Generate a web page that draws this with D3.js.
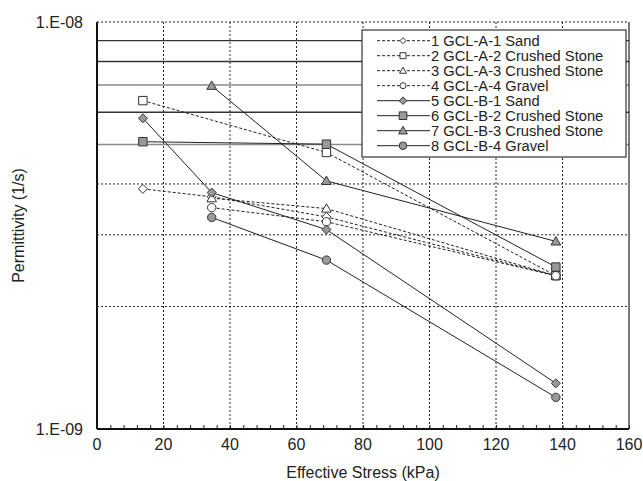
<!DOCTYPE html>
<html>
<head>
<meta charset="utf-8">
<script src="https://cdn.jsdelivr.net/npm/d3@7"></script>
<style>
  body { margin: 0; background: #fff; }
  svg { display: block; font-family: Arial, "Liberation Sans", sans-serif; }
</style>
</head>
<body>
<div id="chart"></div>
<script>
// effective stress steps (kPa)
const stress = [13.8, 34.5, 69, 138];

// permittivity (1/s), null = not tested
const a1Sand    = [3.89e-9, 3.72e-9, 3.32e-9, 2.38e-9];
const a2Crushed = [6.41e-9, null,    4.78e-9, 2.38e-9];
const a3Crushed = [null,    3.69e-9, 3.48e-9, 2.38e-9];
const a4Gravel  = [null,    3.50e-9, 3.23e-9, 2.38e-9];
const b1Sand    = [5.80e-9, 3.81e-9, 3.09e-9, 1.295e-9];
const b2Crushed = [5.08e-9, null,    5.01e-9, 2.50e-9];
const b3Crushed = [null,    6.97e-9, 4.07e-9, 2.89e-9];
const b4Gravel  = [null,    3.31e-9, 2.60e-9, 1.196e-9];

const seriesNames = [
  "1 GCL-A-1 Sand", "2 GCL-A-2 Crushed Stone", "3 GCL-A-3 Crushed Stone", "4 GCL-A-4 Gravel",
  "5 GCL-B-1 Sand", "6 GCL-B-2 Crushed Stone", "7 GCL-B-3 Crushed Stone", "8 GCL-B-4 Gravel"
];
const seriesValues = [a1Sand, a2Crushed, a3Crushed, a4Gravel, b1Sand, b2Crushed, b3Crushed, b4Gravel];
const seriesShapes = ["diamond", "square", "triangle", "circle", "diamond", "square", "triangle", "circle"];

const xTicks = [0, 20, 40, 60, 80, 100, 120, 140, 160];
const yTickLabels = [{v: 1e-8, t: "1.E-08"}, {v: 1e-9, t: "1.E-09"}];
const dashedGrid = [2e-9, 3e-9, 4e-9];
const solidGrid = [{v: 5e-9, c: "#8a8a8a"}, {v: 6e-9, c: "#333"}, {v: 7e-9, c: "#8a8a8a"}, {v: 8e-9, c: "#333"}, {v: 9e-9, c: "#333"}];

const width = 643, height = 481;
const margin = {top: 22, left: 97, right: 14, bottom: 52};
const innerW = width - margin.left - margin.right;
const innerH = height - margin.top - margin.bottom;

const x = d3.scaleLinear().domain([0, 160]).range([0, innerW]);
const y = d3.scaleLog().domain([1e-9, 1e-8]).range([innerH, 0]);

const svg = d3.select("#chart").append("svg")
  .attr("width", width).attr("height", height);
const g = svg.append("g").attr("transform", `translate(${margin.left},${margin.top})`);

// grid
g.selectAll(".vgrid").data(xTicks.slice(1, -1)).enter().append("line")
  .attr("x1", d => x(d)).attr("x2", d => x(d))
  .attr("y1", 0).attr("y2", innerH)
  .attr("stroke", "#222").attr("stroke-width", 1).attr("stroke-dasharray", "2,2");

g.selectAll(".hgrid").data(dashedGrid).enter().append("line")
  .attr("x1", 0).attr("x2", innerW)
  .attr("y1", d => y(d)).attr("y2", d => y(d))
  .attr("stroke", "#222").attr("stroke-width", 1).attr("stroke-dasharray", "2,2");

g.selectAll(".hsolid").data(solidGrid).enter().append("line")
  .attr("x1", 0).attr("x2", innerW)
  .attr("y1", d => y(d.v)).attr("y2", d => y(d.v))
  .attr("stroke", d => d.c).attr("stroke-width", 1.4);

// top border dotted, right border solid
g.append("line").attr("x1", 0).attr("x2", innerW).attr("y1", y(1e-8)).attr("y2", y(1e-8))
  .attr("stroke", "#222").attr("stroke-dasharray", "2,2");
g.append("line").attr("x1", x(160)).attr("x2", x(160)).attr("y1", 0).attr("y2", innerH)
  .attr("stroke", "#222").attr("stroke-width", 1.2);

// x axis (ticks pointing inward)
const xAxis = d3.axisTop(x).tickValues(d3.range(0, 161, 4)).tickSize(4).tickFormat("");
g.append("g").attr("transform", `translate(0,${innerH})`).call(xAxis)
  .call(s => s.select(".domain").remove())
  .selectAll("line").attr("stroke", "#222");

g.selectAll(".xlab").data(xTicks).enter().append("text")
  .attr("x", d => x(d)).attr("y", innerH + 21)
  .attr("text-anchor", "middle").attr("font-size", 16).attr("fill", "#222")
  .text(d => d);

g.selectAll(".ylab").data(yTickLabels).enter().append("text")
  .attr("x", -14).attr("y", d => y(d.v)).attr("dy", "0.35em")
  .attr("text-anchor", "end").attr("font-size", 16).attr("fill", "#222")
  .text(d => d.t);

// series lines
const line = d3.line()
  .defined(d => d.v != null)
  .x(d => x(d.s)).y(d => y(d.v));

const series = seriesValues.map((vals, i) => ({
  name: seriesNames[i],
  shape: seriesShapes[i],
  dashed: i < 4,
  pts: vals.map((v, j) => ({s: stress[j], v: v})).filter(d => d.v != null)
}));

function shapePath(shape, r) {
  if (shape === "diamond") return `M0,${-r}L${r},0L0,${r}L${-r},0Z`;
  if (shape === "square") return `M${-r},${-r}H${r}V${r}H${-r}Z`;
  if (shape === "triangle") return `M0,${-r * 1.15}L${r * 1.15},${r * 0.85}H${-r * 1.15}Z`;
  return d3.arc()({innerRadius: 0, outerRadius: r, startAngle: 0, endAngle: 2 * Math.PI});
}

series.forEach(s => {
  g.append("path").datum(s.pts)
    .attr("d", line)
    .attr("fill", "none").attr("stroke", "#222").attr("stroke-width", 1)
    .attr("stroke-dasharray", s.dashed ? "3,2" : null);
});

series.forEach(s => {
  g.selectAll(null).data(s.pts).enter().append("path")
    .attr("transform", d => `translate(${x(d.s)},${y(d.v)})`)
    .attr("d", shapePath(s.shape, s.shape === "diamond" ? 4.5 : 4.2))
    .attr("fill", s.dashed ? "#fff" : "#999")
    .attr("stroke", "#333").attr("stroke-width", 1);
});

// axes lines
g.append("line").attr("x1", 0).attr("x2", 0).attr("y1", 0).attr("y2", innerH)
  .attr("stroke", "#111").attr("stroke-width", 2);
g.append("line").attr("x1", 0).attr("x2", innerW).attr("y1", innerH).attr("y2", innerH)
  .attr("stroke", "#111").attr("stroke-width", 2);

// axis titles
svg.append("text")
  .attr("x", margin.left + innerW / 2).attr("y", 478)
  .attr("text-anchor", "middle").attr("font-size", 16).attr("fill", "#222")
  .text("Effective Stress (kPa)");
svg.append("text")
  .attr("transform", `translate(24,${margin.top + innerH / 2}) rotate(-90)`)
  .attr("text-anchor", "middle").attr("font-size", 16).attr("fill", "#222")
  .text("Permittivity (1/s)");

// legend
const legend = svg.append("g").attr("transform", "translate(362,30)");
legend.append("rect").attr("width", 264).attr("height", 127)
  .attr("fill", "#fff").attr("stroke", "#333").attr("stroke-width", 1.2);
const rows = legend.selectAll(".row").data(series).enter().append("g")
  .attr("transform", (d, i) => `translate(0,${10.7 + i * 15})`);
rows.append("line").attr("x1", 15).attr("x2", 68).attr("y1", 0).attr("y2", 0)
  .attr("stroke", "#222").attr("stroke-dasharray", d => d.dashed ? "3,2" : null);
rows.append("path")
  .attr("transform", "translate(41,0)")
  .attr("d", d => shapePath(d.shape, d.dashed ? 3 : 3.8))
  .attr("fill", d => d.dashed ? "#fff" : "#999")
  .attr("stroke", "#333");
rows.append("text").attr("x", 69).attr("dy", "0.35em")
  .attr("font-size", 14.7).attr("fill", "#222")
  .text(d => d.name);
</script>
</body>
</html>
